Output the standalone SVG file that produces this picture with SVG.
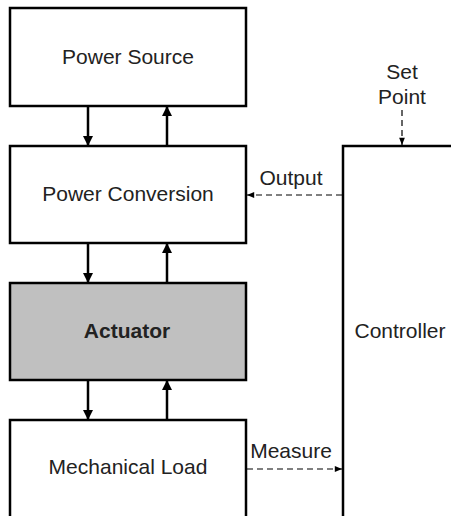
<svg xmlns="http://www.w3.org/2000/svg" width="451" height="516" viewBox="0 0 451 516">
<style>
.box{fill:#fff;stroke:#000;stroke-width:2.5}
.act{fill:#c0c0c0;stroke:#000;stroke-width:2.5}
.t{font-family:"Liberation Sans",Arial,sans-serif;font-size:21px;fill:#222;text-anchor:middle}
.b{font-weight:bold}
.solid{stroke:#000;stroke-width:2.5;fill:none}
.dash{stroke:#000;stroke-width:1.2;fill:none;stroke-dasharray:6,4}
</style>
<defs>
<marker id="ah" viewBox="0 0 10 10" refX="10" refY="5" markerWidth="4" markerHeight="5" orient="auto" markerUnits="strokeWidth"><path d="M0,0 L10,5 L0,10 z" fill="#000"/></marker>
<marker id="ahs" viewBox="0 0 10 10" refX="10" refY="5" markerWidth="8" markerHeight="6" orient="auto" markerUnits="strokeWidth"><path d="M0,1 L10,5 L0,9 z" fill="#000"/></marker>
</defs>
<g id="power-source"><rect class="box" x="10" y="8" width="236" height="98"/><text class="t" x="128" y="64">Power Source</text></g>
<g id="power-conversion"><rect class="box" x="10" y="146" width="236" height="97"/><text class="t" x="128" y="201">Power Conversion</text></g>
<g id="actuator"><rect class="act" x="10" y="283" width="236" height="97"/><text class="t b" x="127" y="338">Actuator</text></g>
<g id="mechanical-load"><rect class="box" x="10" y="420" width="236" height="110"/><text class="t" x="128" y="474">Mechanical Load</text></g>
<g id="controller"><rect class="box" x="343" y="146" width="130" height="390"/><text class="t" x="400" y="338">Controller</text></g>
<g id="set-point"><text class="t" x="402" y="79">Set</text><text class="t" x="402" y="104">Point</text></g>
<g id="connectors">
<line class="solid" x1="88" y1="106" x2="88" y2="146" marker-end="url(#ah)"/>
<line class="solid" x1="167" y1="146" x2="167" y2="106" marker-end="url(#ah)"/>
<line class="solid" x1="88" y1="243" x2="88" y2="283" marker-end="url(#ah)"/>
<line class="solid" x1="167" y1="283" x2="167" y2="243" marker-end="url(#ah)"/>
<line class="solid" x1="88" y1="380" x2="88" y2="420" marker-end="url(#ah)"/>
<line class="solid" x1="167" y1="420" x2="167" y2="380" marker-end="url(#ah)"/>
<line class="dash" x1="402" y1="110" x2="402" y2="145" marker-end="url(#ahs)"/>
<line class="dash" x1="342" y1="195" x2="247" y2="195" marker-end="url(#ahs)"/>
<line class="dash" x1="247" y1="469" x2="342" y2="469" marker-end="url(#ahs)"/>
<text class="t" x="291" y="185">Output</text>
<text class="t" x="291" y="458">Measure</text>
</g>
</svg>
